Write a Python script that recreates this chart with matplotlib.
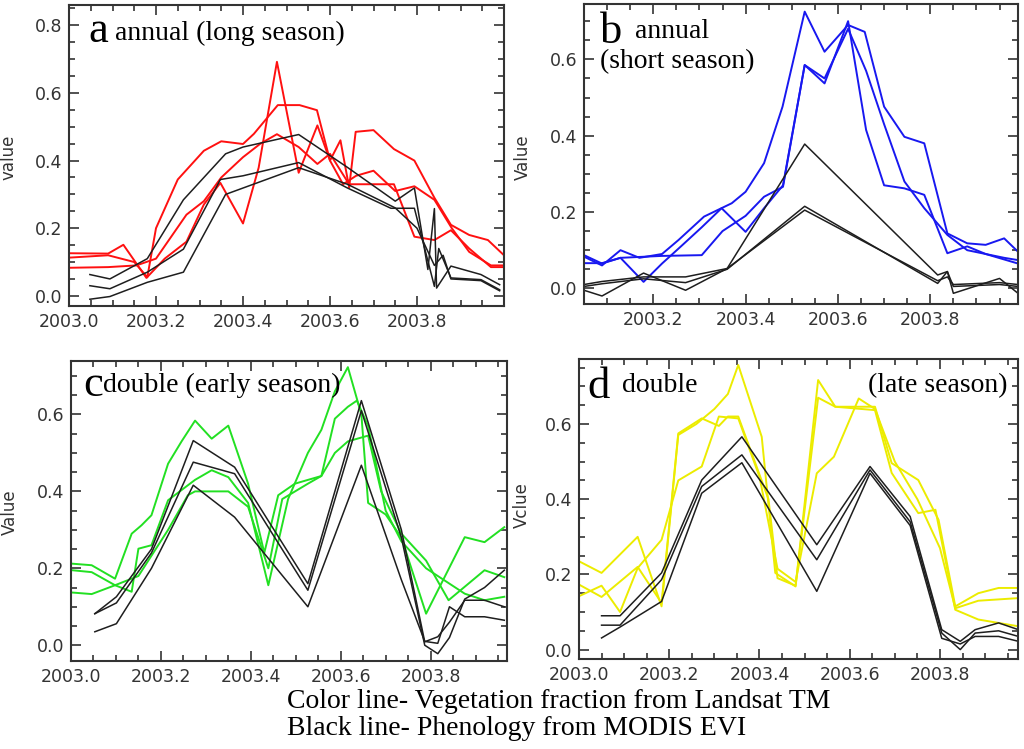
import matplotlib
matplotlib.use("Agg")
import matplotlib.pyplot as plt
from matplotlib.ticker import FixedLocator, MultipleLocator, FormatStrFormatter

#----------------------------- data ---------------------#
# panel a: annual (long season) - red = Landsat TM, black = MODIS EVI
a_red1_t = [2003.00, 2003.09, 2003.15, 2003.18, 2003.20, 2003.25, 2003.31, 2003.35, 2003.40, 2003.425,
            2003.48, 2003.53, 2003.57, 2003.60, 2003.63, 2003.66, 2003.70, 2003.75, 2003.794, 2003.84,
            2003.88, 2003.92, 2003.97, 2004.00]
a_red1_v = [0.113, 0.12, 0.10, 0.055, 0.20, 0.344, 0.429, 0.457, 0.449, 0.479,
            0.564, 0.564, 0.549, 0.40, 0.33, 0.355, 0.37, 0.31, 0.324, 0.284,
            0.20, 0.13, 0.09, 0.09]
a_red2_t = [2003.00, 2003.09, 2003.125, 2003.178, 2003.22, 2003.27, 2003.31, 2003.348, 2003.40, 2003.436,
            2003.478, 2003.528, 2003.571, 2003.60, 2003.624, 2003.644, 2003.659, 2003.70, 2003.747, 2003.794,
            2003.84, 2003.878, 2003.92, 2003.963, 2004.00]
a_red2_v = [0.126, 0.125, 0.151, 0.053, 0.11, 0.16, 0.27, 0.334, 0.214, 0.379,
            0.692, 0.364, 0.504, 0.40, 0.46, 0.32, 0.485, 0.49, 0.434, 0.40,
            0.29, 0.21, 0.18, 0.165, 0.12]
a_red3_t = [2003.00, 2003.09, 2003.155, 2003.20, 2003.27, 2003.31, 2003.35, 2003.40, 2003.44, 2003.478,
            2003.528, 2003.571, 2003.60, 2003.644, 2003.70, 2003.747, 2003.794, 2003.84, 2003.878, 2003.92,
            2003.97, 2004.00]
a_red3_v = [0.083, 0.085, 0.09, 0.11, 0.24, 0.28, 0.35, 0.41, 0.45, 0.478,
            0.44, 0.39, 0.42, 0.33, 0.33, 0.33, 0.175, 0.165, 0.194, 0.14,
            0.085, 0.085]
a_blk1_t = [2003.048, 2003.094, 2003.18, 2003.263, 2003.36, 2003.40, 2003.528, 2003.64, 2003.75, 2003.794,
            2003.825, 2003.84, 2003.845, 2003.878, 2003.947, 2003.99]
a_blk1_v = [0.063, 0.05, 0.11, 0.284, 0.42, 0.44, 0.477, 0.38, 0.28, 0.319,
            0.078, 0.258, 0.023, 0.088, 0.063, 0.033]
a_blk2_t = [2003.048, 2003.094, 2003.18, 2003.263, 2003.348, 2003.40, 2003.528, 2003.64, 2003.74, 2003.794,
            2003.84, 2003.85, 2003.878, 2003.947, 2003.99]
a_blk2_v = [0.03, 0.021, 0.07, 0.138, 0.344, 0.355, 0.394, 0.319, 0.259, 0.259,
            0.028, 0.14, 0.053, 0.048, 0.018]
a_blk3_t = [2003.048, 2003.094, 2003.18, 2003.263, 2003.36, 2003.528, 2003.64, 2003.75, 2003.80, 2003.84,
            2003.86, 2003.878, 2003.947, 2003.99]
a_blk3_v = [-0.01, -0.002, 0.04, 0.07, 0.30, 0.379, 0.33, 0.26, 0.20, 0.09,
            0.12, 0.05, 0.045, 0.015]

# panel b: annual (short season) - blue = Landsat TM
b_blu1_t = [2003.05, 2003.089, 2003.129, 2003.17, 2003.219, 2003.255, 2003.31, 2003.37, 2003.40, 2003.44,
            2003.48, 2003.528, 2003.571, 2003.622, 2003.658, 2003.70, 2003.744, 2003.787, 2003.837, 2003.88,
            2003.92, 2003.96, 2003.99]
b_blu1_v = [0.083, 0.06, 0.10, 0.08, 0.09, 0.127, 0.188, 0.223, 0.253, 0.328,
            0.476, 0.725, 0.62, 0.69, 0.672, 0.476, 0.397, 0.38, 0.144, 0.118,
            0.114, 0.131, 0.096]
b_blu2_t = [2003.05, 2003.089, 2003.129, 2003.219, 2003.305, 2003.35, 2003.40, 2003.44, 2003.481, 2003.528,
            2003.571, 2003.622, 2003.661, 2003.70, 2003.744, 2003.787, 2003.837, 2003.88, 2003.92, 2003.96,
            2003.99]
b_blu2_v = [0.066, 0.066, 0.08, 0.085, 0.087, 0.15, 0.19, 0.24, 0.266, 0.585,
            0.537, 0.70, 0.415, 0.27, 0.262, 0.245, 0.092, 0.11, 0.09, 0.08,
            0.074]
b_blu3_t = [2003.05, 2003.089, 2003.129, 2003.179, 2003.219, 2003.26, 2003.305, 2003.348, 2003.40, 2003.44,
            2003.481, 2003.528, 2003.571, 2003.622, 2003.661, 2003.70, 2003.744, 2003.787, 2003.837, 2003.88,
            2003.92, 2003.99]
b_blu3_v = [0.087, 0.065, 0.08, 0.017, 0.065, 0.11, 0.16, 0.21, 0.148, 0.21,
            0.27, 0.585, 0.55, 0.68, 0.57, 0.43, 0.28, 0.21, 0.14, 0.10,
            0.09, 0.065]
b_blk_t = [2003.05, 2003.089, 2003.179, 2003.27, 2003.36, 2003.528, 2003.816, 2003.837, 2003.85, 2003.95, 2003.99]
b_blk1_v = [-0.005, -0.02, 0.04, -0.005, 0.052, 0.378, 0.035, 0.044, -0.013, 0.026, -0.013]
b_blk2_v = [0.005, 0.012, 0.025, 0.015, 0.05, 0.215, 0.013, 0.044, 0.005, 0.01, 0.005]
b_blk3_v = [0.01, 0.018, 0.03, 0.03, 0.052, 0.205, 0.02, 0.03, 0.01, 0.015, 0.01]

# panel c: double (early season) - green = Landsat TM
c_grn1_t = [2003.003, 2003.046, 2003.098, 2003.135, 2003.157, 2003.179, 2003.216, 2003.246, 2003.276, 2003.313,
            2003.35, 2003.394, 2003.43, 2003.461, 2003.498, 2003.557, 2003.587, 2003.616, 2003.661, 2003.69,
            2003.735, 2003.79, 2003.84, 2003.92, 2003.964]
c_grn1_v = [0.212, 0.208, 0.173, 0.29, 0.312, 0.338, 0.472, 0.53, 0.584, 0.537,
            0.571, 0.42, 0.24, 0.39, 0.42, 0.44, 0.50, 0.53, 0.545, 0.40,
            0.29, 0.22, 0.117, 0.195, 0.177]
c_grn2_t = [2003.003, 2003.046, 2003.098, 2003.135, 2003.15, 2003.179, 2003.216, 2003.276, 2003.313, 2003.35,
            2003.394, 2003.439, 2003.483, 2003.527, 2003.557, 2003.587, 2003.616, 2003.646, 2003.661, 2003.70,
            2003.735, 2003.79, 2003.876, 2003.92, 2003.964]
c_grn2_v = [0.195, 0.19, 0.156, 0.139, 0.251, 0.26, 0.377, 0.43, 0.455, 0.437,
            0.37, 0.156, 0.38, 0.50, 0.56, 0.66, 0.723, 0.60, 0.37, 0.34,
            0.28, 0.082, 0.281, 0.268, 0.307]
c_grn3_t = [2003.003, 2003.046, 2003.098, 2003.15, 2003.216, 2003.26, 2003.276, 2003.35, 2003.394, 2003.439,
            2003.47, 2003.527, 2003.557, 2003.587, 2003.616, 2003.636, 2003.661, 2003.70, 2003.735, 2003.79,
            2003.876, 2003.92, 2003.964]
c_grn3_v = [0.137, 0.133, 0.156, 0.18, 0.30, 0.39, 0.40, 0.40, 0.36, 0.20,
            0.38, 0.42, 0.44, 0.589, 0.62, 0.636, 0.57, 0.35, 0.27, 0.20,
            0.134, 0.117, 0.126]
c_blk_t = [2003.053, 2003.101, 2003.179, 2003.272, 2003.364, 2003.527, 2003.646, 2003.735, 2003.787, 2003.816,
           2003.842, 2003.876, 2003.92, 2003.964]
c_blk1_v = [0.082, 0.126, 0.25, 0.532, 0.463, 0.16, 0.636, 0.30, 0.009, 0.022, 0.06, 0.117, 0.117, 0.10]
c_blk2_v = [0.082, 0.11, 0.24, 0.476, 0.446, 0.143, 0.61, 0.28, 0.0, -0.022, 0.02, 0.12, 0.15, 0.195]
c_blk3_v = [0.035, 0.056, 0.20, 0.416, 0.333, 0.10, 0.468, 0.17, 0.01, 0.005, 0.10, 0.074, 0.074, 0.065]

# panel d: double (late season) - yellow = Landsat TM
d_yel1_t = [2003.00, 2003.05, 2003.13, 2003.183, 2003.22, 2003.26, 2003.30, 2003.33, 2003.353, 2003.405,
            2003.435, 2003.48, 2003.53, 2003.568, 2003.656, 2003.693, 2003.752, 2003.797, 2003.834, 2003.885,
            2003.93, 2003.974]
d_yel1_v = [0.235, 0.204, 0.30, 0.115, 0.571, 0.60, 0.64, 0.68, 0.757, 0.566,
            0.204, 0.168, 0.717, 0.646, 0.646, 0.496, 0.451, 0.345, 0.115, 0.15,
            0.164, 0.164]
d_yel2_t = [2003.00, 2003.05, 2003.13, 2003.183, 2003.22, 2003.272, 2003.31, 2003.33, 2003.353, 2003.42,
            2003.44, 2003.48, 2003.53, 2003.568, 2003.656, 2003.693, 2003.752, 2003.79, 2003.834, 2003.885,
            2003.974]
d_yel2_v = [0.173, 0.14, 0.22, 0.124, 0.575, 0.615, 0.595, 0.62, 0.62, 0.40,
            0.19, 0.17, 0.67, 0.646, 0.637, 0.47, 0.363, 0.372, 0.106, 0.08,
            0.062]
d_yel3_t = [2003.00, 2003.05, 2003.091, 2003.13, 2003.183, 2003.22, 2003.272, 2003.31, 2003.353, 2003.40,
            2003.44, 2003.48, 2003.527, 2003.565, 2003.62, 2003.656, 2003.70, 2003.75, 2003.80, 2003.834,
            2003.885, 2003.974]
d_yel3_v = [0.142, 0.17, 0.10, 0.217, 0.292, 0.45, 0.487, 0.62, 0.615, 0.46,
            0.215, 0.18, 0.469, 0.513, 0.668, 0.64, 0.50, 0.40, 0.27, 0.11,
            0.13, 0.137]
d_blk_t = [2003.05, 2003.091, 2003.183, 2003.272, 2003.361, 2003.527, 2003.645, 2003.734, 2003.804, 2003.845,
           2003.878, 2003.93, 2003.974]
d_blk1_v = [0.09, 0.09, 0.204, 0.451, 0.566, 0.279, 0.487, 0.354, 0.053, 0.022, 0.053, 0.071, 0.053]
d_blk2_v = [0.065, 0.065, 0.186, 0.434, 0.518, 0.239, 0.478, 0.34, 0.044, 0.0, 0.044, 0.05, 0.035]
d_blk3_v = [0.031, 0.06, 0.128, 0.416, 0.497, 0.155, 0.469, 0.33, 0.03, 0.015, 0.035, 0.035, 0.022]

#----------------------------- layout ----------------------------------------#
W, H = 1024, 749
SERIF = ['Liberation Serif', 'DejaVu Serif']


def box(left, top, right, bottom):
    # pixel box -> figure fraction rect
    return [left / W, 1 - bottom / H, (right - left) / W, (bottom - top) / H]


def fx(x):
    return x / W


def fy(y):
    return 1 - y / H


def setup(ax, xlim, ylim, xticks, yticks):
    ax.set_xlim(*xlim)
    ax.set_ylim(*ylim)
    ax.xaxis.set_major_locator(FixedLocator(xticks))
    ax.yaxis.set_major_locator(FixedLocator(yticks))
    ax.xaxis.set_minor_locator(MultipleLocator(0.05))
    ax.yaxis.set_minor_locator(MultipleLocator(0.05))
    ax.xaxis.set_major_formatter(FormatStrFormatter('%.1f'))
    ax.yaxis.set_major_formatter(FormatStrFormatter('%.1f'))
    ax.tick_params(which='both', direction='in', top=True, right=True,
                   color='#333333', labelcolor='#333333', labelsize=12.5, width=1.2)
    ax.tick_params(which='major', length=7, pad=5)
    ax.tick_params(which='minor', length=4)
    for s in ax.spines.values():
        s.set_color('#333333')
        s.set_linewidth(1.5)


fig = plt.figure(figsize=(W / 100, H / 100), dpi=100)
fig.patch.set_facecolor('white')

RED, BLUE, GREEN, YELLOW, BLACK = '#ff1010', '#1818f0', '#22e022', '#ecec00', '#1e1e1e'
CLW, KLW = 1.4, 1.1

# a
ax = fig.add_axes(box(69, 5, 504, 306))
setup(ax, (2003.0, 2004.0), (-0.03, 0.86), [2003.0, 2003.2, 2003.4, 2003.6, 2003.8], [0.0, 0.2, 0.4, 0.6, 0.8])
for t, v in [(a_red1_t, a_red1_v), (a_red2_t, a_red2_v), (a_red3_t, a_red3_v)]:
    ax.plot(t, v, color=RED, lw=CLW)
for t, v in [(a_blk1_t, a_blk1_v), (a_blk2_t, a_blk2_v), (a_blk3_t, a_blk3_v)]:
    ax.plot(t, v, color=BLACK, lw=KLW)

# b
ax = fig.add_axes(box(584, 4, 1018, 304))
setup(ax, (2003.05, 2003.99), (-0.041, 0.745), [2003.2, 2003.4, 2003.6, 2003.8], [0.0, 0.2, 0.4, 0.6])
for t, v in [(b_blu1_t, b_blu1_v), (b_blu2_t, b_blu2_v), (b_blu3_t, b_blu3_v)]:
    ax.plot(t, v, color=BLUE, lw=CLW)
for v in [b_blk1_v, b_blk2_v, b_blk3_v]:
    ax.plot(b_blk_t, v, color=BLACK, lw=KLW)

# c
ax = fig.add_axes(box(71, 361, 507, 661))
setup(ax, (2003.0, 2003.97), (-0.041, 0.739), [2003.0, 2003.2, 2003.4, 2003.6, 2003.8], [0.0, 0.2, 0.4, 0.6])
for t, v in [(c_grn1_t, c_grn1_v), (c_grn2_t, c_grn2_v), (c_grn3_t, c_grn3_v)]:
    ax.plot(t, v, color=GREEN, lw=CLW)
for v in [c_blk1_v, c_blk2_v, c_blk3_v]:
    ax.plot(c_blk_t, v, color=BLACK, lw=KLW)

# d
ax = fig.add_axes(box(579, 359, 1018, 659))
setup(ax, (2003.0, 2003.973), (-0.025, 0.773), [2003.0, 2003.2, 2003.4, 2003.6, 2003.8], [0.0, 0.2, 0.4, 0.6])
for t, v in [(d_yel1_t, d_yel1_v), (d_yel2_t, d_yel2_v), (d_yel3_t, d_yel3_v)]:
    ax.plot(t, v, color=YELLOW, lw=CLW)
for v in [d_blk1_v, d_blk2_v, d_blk3_v]:
    ax.plot(d_blk_t, v, color=BLACK, lw=KLW)

# y axis titles
for x, y, s in [(9, 157, 'value'), (523, 157, 'Value'), (10, 512, 'Value'), (522, 505, 'Vclue')]:
    fig.text(fx(x), fy(y), s, rotation=90, ha='center', va='center', fontsize=12, color='#333333')

# panel titles
big, mid = 32, 20
fig.text(fx(88), fy(42), 'a', fontsize=big, family=SERIF, va='baseline')
fig.text(fx(115), fy(40), 'annual (long season)', fontsize=mid, family=SERIF, va='baseline')
fig.text(fx(600), fy(43), 'b', fontsize=big, family=SERIF, va='baseline')
fig.text(fx(635), fy(38), 'annual', fontsize=mid, family=SERIF, va='baseline')
fig.text(fx(600), fy(68), '(short season)', fontsize=mid, family=SERIF, va='baseline')
fig.text(fx(83), fy(396), 'c', fontsize=big, family=SERIF, va='baseline')
fig.text(fx(103), fy(392), 'double (early season)', fontsize=mid, family=SERIF, va='baseline')
fig.text(fx(587), fy(398), 'd', fontsize=big, family=SERIF, va='baseline')
fig.text(fx(622), fy(392), 'double', fontsize=mid, family=SERIF, va='baseline')
fig.text(fx(1007), fy(392), '(late season)', fontsize=mid, family=SERIF, va='baseline', ha='right')

# caption
fig.text(fx(287), fy(708), 'Color line- Vegetation fraction from Landsat TM', fontsize=mid, family=SERIF, va='baseline')
fig.text(fx(287), fy(735), 'Black line- Phenology from MODIS EVI', fontsize=mid, family=SERIF, va='baseline')

fig.savefig('out.png', dpi=100)
